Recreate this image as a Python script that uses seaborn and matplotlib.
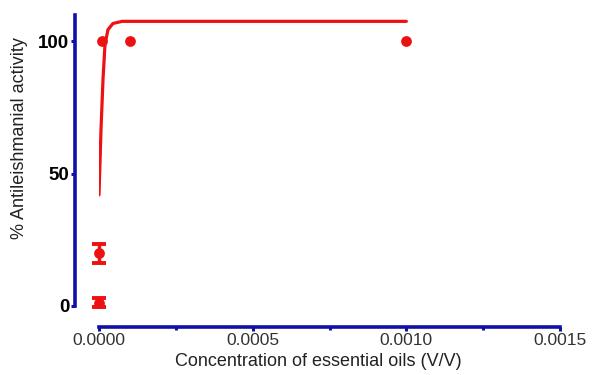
import numpy as np
import pandas as pd
import seaborn as sns
import matplotlib.pyplot as plt
from matplotlib.ticker import MultipleLocator

# -------------------------------
# Data
# -------------------------------
conc = [1e-7, 1e-6, 1e-5, 1e-4, 1e-3]
activity = [1.3, 20.0, 100.0, 100.0, 100.0]
activity_err = [1.7, 3.6, 0.0, 0.0, 0.0]

# fitted curve
curve_x = [0.0, 0.0000065, 0.000013, 0.0000195, 0.0000293, 0.0000456, 0.000075, 0.001]
curve_y = [42.0, 66.7, 85.6, 98.9, 104.5, 106.8, 107.6, 107.6]

red = "#ee1111"
blue = "#1010a8"

sns.set_style("white")
plt.rcParams['font.family'] = ['Liberation Sans', 'DejaVu Sans']

fig = plt.figure(figsize=(5.94, 3.75), dpi=100)
W, H = 594, 375
ax = fig.add_axes([99 / W, 1 - 306 / H, (560 - 99) / W, (306 - 15) / H])

df_pts = pd.DataFrame({"conc": conc, "act": activity, "err": activity_err})
df_fit = pd.DataFrame({"x": curve_x, "y": curve_y})
df_err = df_pts[df_pts["err"] > 0]

sns.lineplot(data=df_fit, x="x", y="y", color=red, lw=2.3, ax=ax)
ax.errorbar(df_err["conc"], df_err["act"], yerr=df_err["err"], fmt="none",
            ecolor=red, elinewidth=2.5, capsize=4.7, capthick=2.8, clip_on=False, zorder=3)
sns.scatterplot(data=df_pts, x="conc", y="act", color=red, s=60, edgecolor=red,
                linewidth=0, ax=ax, clip_on=False, zorder=4)

ax.set_xlim(0, 0.0015)
ax.set_ylim(0, 110)
ax.xaxis.set_major_locator(MultipleLocator(0.0005))
ax.xaxis.set_minor_locator(MultipleLocator(0.00025))
ax.xaxis.set_major_formatter(plt.FuncFormatter(lambda v, p: f"{v:.4f}"))
ax.set_yticks([0, 50, 100])

for s in ["top", "right"]:
    ax.spines[s].set_visible(False)
ax.spines["left"].set_position(("outward", 17.3))
ax.spines["bottom"].set_position(("outward", 15.1))
for s in ["left", "bottom"]:
    ax.spines[s].set_color(blue)
    ax.spines[s].set_linewidth(2.6)

ax.tick_params(axis="both", which="both", direction="out", color=blue, width=2.2,
               bottom=True, left=True)
ax.tick_params(axis="y", length=3, labelsize=13.5, pad=1, labelcolor="black")
ax.tick_params(axis="x", which="major", length=3, labelsize=12.5, pad=1.5, labelcolor="#333333")
ax.tick_params(axis="x", which="minor", length=2.5)
for t in ax.get_yticklabels():
    t.set_fontweight("bold")

ax.set_xlabel("Concentration of essential oils (V/V)", fontsize=13, color="#222222")
ax.set_ylabel("% Antileishmanial activity", fontsize=13, color="#222222")
ax.xaxis.set_label_coords(0.475, -0.163)
ax.yaxis.set_label_coords(-0.154, 0.577)

plt.savefig("out.png", dpi=100)
